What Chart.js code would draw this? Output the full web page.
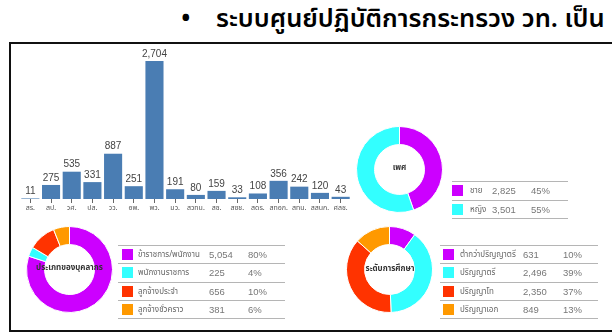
<!DOCTYPE html>
<html>
<head>
<meta charset="utf-8">
<script src="https://cdn.jsdelivr.net/npm/chart.js@4/dist/chart.umd.min.js"></script>
<style>
  html, body { margin: 0; padding: 0; background: #fff; }
  body { position: relative; width: 612px; height: 333px; overflow: hidden;
         font-family: "Noto Sans Thai", "Noto Sans Thai UI", "Tahoma", "Liberation Sans", sans-serif; }
  .title { position: absolute; left: 181px; top: 1px; font-size: 25.5px; font-weight: 600;
           white-space: nowrap; color: #000; line-height: 36px; }
  .title .dot { display: inline-block; width: 35px; }
  .frame { position: absolute; left: 9px; top: 42px; width: 700px; height: 286px;
           border: 2px solid #111; box-sizing: content-box; }
  canvas { position: absolute; }
  .hole { position: absolute; transform: translate(-50%, -50%); white-space: nowrap;
          font-size: 8px; font-weight: bold; color: #333; }
  .legend { position: absolute; border-top: 1px solid #b5b5b5; }
  .row { position: relative; border-bottom: 1px solid #b5b5b5; box-sizing: border-box; }
  .row span { position: absolute; top: 0; white-space: nowrap; color: #777; }
  .row .sw { width: 11px; height: 11px; }
  .row .lab { font-size: 8px; color: #666; }
  .row .num { font-family: "Liberation Sans", Arial, sans-serif; font-size: 9.5px; }
</style>
</head>
<body>
<div class="title"><span class="dot">•</span>ระบบศูนย์ปฏิบัติการกระทรวง วท. เป็น</div>
<div class="frame"></div>

<canvas id="bars" width="331" height="170" style="left:20px; top:45px;"></canvas>
<canvas id="genderDonut" width="87" height="87" style="left:356px; top:126px;"></canvas>
<canvas id="staffDonut" width="87" height="87" style="left:26px; top:226px;"></canvas>
<canvas id="eduDonut" width="87" height="87" style="left:346px; top:226px;"></canvas>

<div class="hole" style="left:399.5px; top:168px;">เพศ</div>
<div class="hole" style="left:69.5px; top:268px;">ประเภทของบุคลากร</div>
<div class="hole" style="left:390px; top:269px;">ระดับการศึกษา</div>

<div id="genderLegend"></div>
<div id="staffLegend"></div>
<div id="eduLegend"></div>

<script>
// Staff per agency
const agencies = ['สร.', 'สป.', 'วศ.', 'ปส.', 'วว.', 'อพ.', 'พว.', 'มว.', 'สวทน.', 'สซ.', 'สซช.', 'สดร.', 'สทอภ.', 'สทน.', 'สสนก.', 'ศลช.'];
const staffCounts = [11, 275, 535, 331, 887, 251, 2704, 191, 80, 159, 33, 108, 356, 242, 120, 43];

// Gender
const genderLabels = ['ชาย', 'หญิง'];
const genderCounts = [2825, 3501];

// Staff type
const staffTypeLabels = ['ข้าราชการ/พนักงาน', 'พนักงานราชการ', 'ลูกจ้างประจำ', 'ลูกจ้างชั่วคราว'];
const staffTypeCounts = [5054, 225, 656, 381];

// Education level
const eduLabels = ['ต่ำกว่าปริญญาตรี', 'ปริญญาตรี', 'ปริญญาโท', 'ปริญญาเอก'];
const eduCounts = [631, 2496, 2350, 849];

const sliceColors = ['#cc00ff', '#33ffff', '#ff3300', '#ff9900'];
const BAR_BLUE = '#4a7db3';
const THAI_FONT = '"Noto Sans Thai", "Tahoma", "Liberation Sans", sans-serif';

const fmt = v => v.toLocaleString('en-US');

// Value printed above each bar
const valueLabels = {
  id: 'valueLabels',
  afterDatasetsDraw(chart) {
    const { ctx } = chart;
    const meta = chart.getDatasetMeta(0);
    const values = chart.data.datasets[0].data;
    ctx.save();
    ctx.font = '10px "Liberation Sans", Arial, sans-serif';
    ctx.fillStyle = '#444';
    ctx.textAlign = 'center';
    ctx.textBaseline = 'bottom';
    meta.data.forEach((bar, i) => ctx.fillText(fmt(values[i]), bar.x, bar.y - 2));
    ctx.restore();
  }
};

new Chart(document.getElementById('bars'), {
  type: 'bar',
  data: {
    labels: agencies,
    datasets: [{ data: staffCounts, backgroundColor: BAR_BLUE, categoryPercentage: 1, barPercentage: 0.875 }]
  },
  options: {
    responsive: false, animation: false, events: [],
    layout: { padding: { top: 6, left: 0, right: 0, bottom: 0 } },
    plugins: { legend: { display: false }, tooltip: { enabled: false } },
    scales: {
      x: {
        grid: { display: true, drawOnChartArea: false, drawTicks: true, tickLength: 4, offset: false, color: '#666' },
        border: { display: false },
        ticks: { font: { size: 7, family: THAI_FONT }, color: '#555', padding: 1, maxRotation: 0, autoSkip: false },
        afterFit(scale) { scale.height = 16; }
      },
      y: { display: false, min: 0, max: 2900 }
    }
  },
  plugins: [valueLabels]
});

function donut(id, labels, counts) {
  new Chart(document.getElementById(id), {
    type: 'doughnut',
    data: { labels, datasets: [{ data: counts, backgroundColor: sliceColors, borderColor: '#fff', borderWidth: 1 }] },
    options: {
      responsive: false, animation: false, events: [], cutout: '58%',
      plugins: { legend: { display: false }, tooltip: { enabled: false } }
    }
  });
}
donut('genderDonut', genderLabels, genderCounts);
donut('staffDonut', staffTypeLabels, staffTypeCounts);
donut('eduDonut', eduLabels, eduCounts);

// Table legend: swatch, label, count, share
function legend(id, labels, counts, box) {
  const total = counts.reduce((a, b) => a + b, 0);
  const el = document.getElementById(id);
  el.className = 'legend';
  el.style.left = box.x + 'px';
  el.style.top = box.y + 'px';
  el.style.width = box.w + 'px';
  labels.forEach((lab, i) => {
    const row = document.createElement('div');
    row.className = 'row';
    row.style.height = box.rowH + 'px';
    const mid = box.rowH / 2;
    row.innerHTML =
      `<span class="sw" style="left:${box.sw}px; top:${mid - 6}px; background:${sliceColors[i]}"></span>` +
      `<span class="lab" style="left:${box.lab}px; top:${mid - 7}px; line-height:14px">${lab}</span>` +
      `<span class="num" style="left:${box.num}px; top:${mid - 7}px; line-height:14px">${fmt(counts[i])}</span>` +
      `<span class="num" style="left:${box.pct}px; top:${mid - 7}px; line-height:14px">${Math.round(counts[i] / total * 100)}%</span>`;
    el.appendChild(row);
  });
}
legend('genderLegend', genderLabels, genderCounts, { x: 452, y: 181, w: 116, rowH: 18.5, sw: 0, lab: 18, num: 40, pct: 79 });
legend('staffLegend', staffTypeLabels, staffTypeCounts, { x: 118, y: 245, w: 167, rowH: 18.3, sw: 4, lab: 20, num: 91, pct: 130 });
legend('eduLegend', eduLabels, eduCounts, { x: 440, y: 245, w: 158, rowH: 18.3, sw: 3, lab: 20, num: 83, pct: 123 });
</script>
</body>
</html>
